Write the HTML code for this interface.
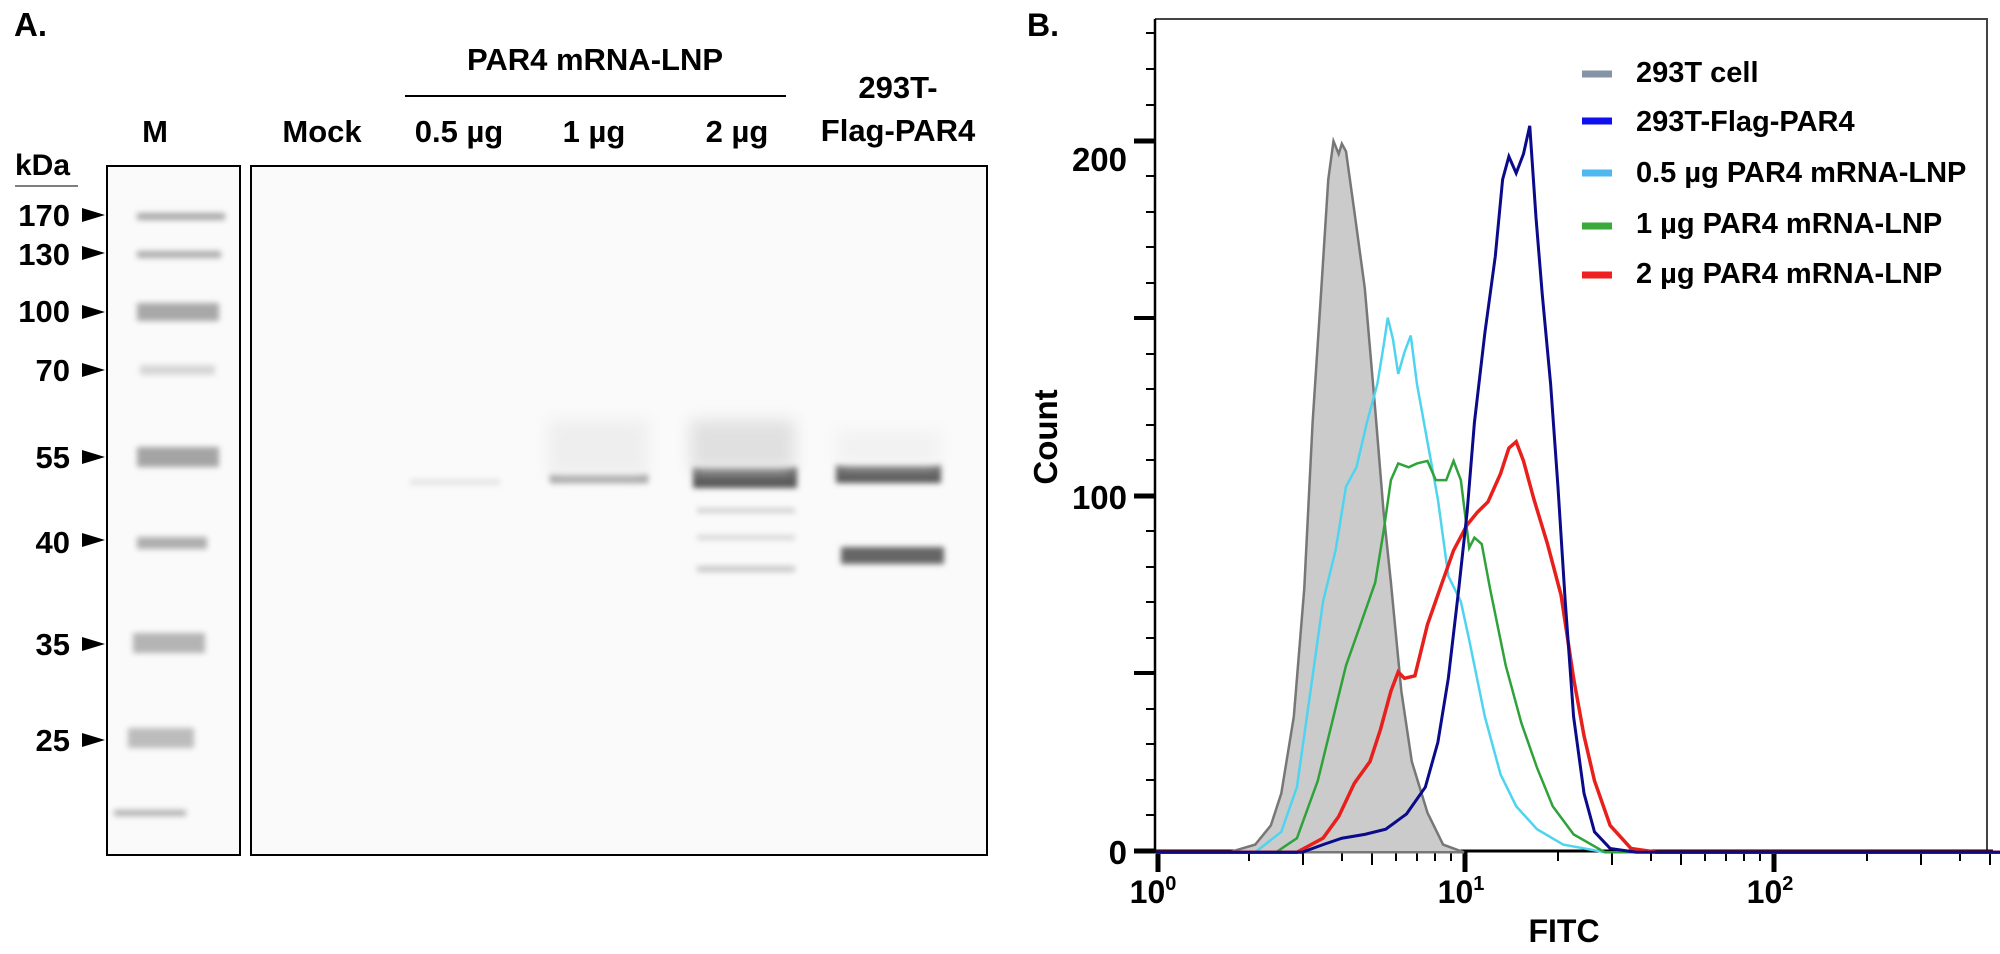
<!DOCTYPE html>
<html><head><meta charset="utf-8"><style>
body{margin:0;background:#fff;width:2000px;height:949px;overflow:hidden}
svg text{font-family:"Liberation Sans",sans-serif;font-weight:bold;fill:#000}
</style></head><body>
<svg width="2000" height="949" viewBox="0 0 2000 949" xmlns="http://www.w3.org/2000/svg">
<defs>
<filter id="bl" x="-20%" y="-200%" width="140%" height="500%"><feGaussianBlur stdDeviation="3"/></filter>
<filter id="bl2" x="-20%" y="-100%" width="140%" height="300%"><feGaussianBlur stdDeviation="8"/></filter>
</defs>
<!-- Panel A -->
<text x="14" y="36" font-size="33">A.</text>
<text x="595" y="70" font-size="31" text-anchor="middle">PAR4 mRNA-LNP</text>
<line x1="405" y1="96" x2="786" y2="96" stroke="#000" stroke-width="2"/>
<text x="155" y="142" font-size="31" text-anchor="middle">M</text>
<text x="322" y="142" font-size="31" text-anchor="middle">Mock</text>
<text x="459" y="142" font-size="31" text-anchor="middle">0.5 µg</text>
<text x="594" y="142" font-size="31" text-anchor="middle">1 µg</text>
<text x="737" y="142" font-size="31" text-anchor="middle">2 µg</text>
<text x="898" y="98" font-size="31" text-anchor="middle">293T-</text>
<text x="898" y="141" font-size="31" text-anchor="middle">Flag-PAR4</text>
<text x="15" y="175" font-size="30">kDa</text>
<line x1="15" y1="186" x2="78" y2="186" stroke="#555" stroke-width="1.5"/>
<g font-size="31" text-anchor="end">
<text x="70" y="226">170</text><text x="70" y="265">130</text><text x="70" y="322">100</text>
<text x="70" y="381">70</text><text x="70" y="468">55</text><text x="70" y="553">40</text>
<text x="70" y="655">35</text><text x="70" y="751">25</text>
</g>
<rect x="107" y="166" width="133" height="689" fill="#fafafa" stroke="#000" stroke-width="2"/>
<rect x="251" y="166" width="736" height="689" fill="#fafafa" stroke="#000" stroke-width="2"/>
<g fill="#000">
<polygon points="82,208 82,222 105,215"/>
<polygon points="82,246 82,260 105,253"/>
<polygon points="82,305 82,319 105,312"/>
<polygon points="82,363 82,377 105,370"/>
<polygon points="82,450 82,464 105,457"/>
<polygon points="82,533 82,547 105,540"/>
<polygon points="82,637 82,651 105,644"/>
<polygon points="82,733 82,747 105,740"/>
</g>
<g filter="url(#bl)">
<rect x="137" y="213" width="88" height="7" fill="#a8a8a8"/>
<rect x="137" y="251" width="84" height="7" fill="#acacac"/>
<rect x="137" y="303" width="82" height="18" fill="#a8a8a8"/>
<rect x="140" y="365" width="75" height="10" fill="#d6d6d6"/>
<rect x="137" y="447" width="82" height="20" fill="#a4a4a4"/>
<rect x="137" y="537" width="70" height="12" fill="#aeaeae"/>
<rect x="133" y="633" width="72" height="20" fill="#b4b4b4"/>
<rect x="128" y="728" width="66" height="20" fill="#bcbcbc"/>
<rect x="114" y="810" width="72" height="6" fill="#b0b0b0"/>
<rect x="410" y="479" width="90" height="6" fill="#e4e4e4"/>
<rect x="550" y="474" width="98" height="9" fill="#999"/>
<rect x="693" y="467" width="104" height="21" fill="#555"/>
<rect x="697" y="508" width="98" height="5" fill="#d0d0d0"/>
<rect x="697" y="535" width="98" height="5" fill="#d6d6d6"/>
<rect x="697" y="566" width="98" height="6" fill="#c8c8c8"/>
<rect x="836" y="465" width="105" height="18" fill="#5a5a5a"/>
<rect x="841" y="547" width="103" height="17" fill="#666"/>
</g>
<rect x="548" y="420" width="100" height="55" fill="#eeeeee" filter="url(#bl2)"/>
<rect x="690" y="420" width="105" height="50" fill="#e0e0e0" filter="url(#bl2)"/>
<rect x="836" y="430" width="105" height="35" fill="#f2f2f2" filter="url(#bl2)"/>
<!-- Panel B -->
<text x="1027" y="36" font-size="32">B.</text>
<polyline points="1155,19 1987,19 1987,851" fill="none" stroke="#444" stroke-width="2"/>
<line x1="1155" y1="19" x2="1155" y2="853" stroke="#000" stroke-width="2.5"/>
<line x1="1153" y1="851" x2="1993" y2="851" stroke="#000" stroke-width="3"/>
<g stroke="#000" stroke-width="2">
<line x1="1134" y1="141" x2="1155" y2="141" stroke-width="5"/>
<line x1="1134" y1="496" x2="1155" y2="496" stroke-width="5"/>
<line x1="1134" y1="851" x2="1155" y2="851" stroke-width="5"/>
<line x1="1134" y1="318" x2="1155" y2="318" stroke-width="4"/>
<line x1="1134" y1="673" x2="1155" y2="673" stroke-width="4"/>
<path d="M1146 815h9M1146 780h9M1146 744h9M1146 709h9M1146 638h9M1146 602h9M1146 567h9M1146 531h9M1146 460h9M1146 425h9M1146 389h9M1146 354h9M1146 283h9M1146 247h9M1146 212h9M1146 176h9M1146 105h9M1146 69h9M1146 33h9"/>
<line x1="1158" y1="851" x2="1158" y2="872" stroke-width="5"/>
<line x1="1465" y1="851" x2="1465" y2="872" stroke-width="5"/>
<line x1="1774" y1="851" x2="1774" y2="872" stroke-width="5"/>
<path d="M1249 851v10M1303 851v14M1342 851v10M1372 851v14M1396 851v10M1417 851v10M1435 851v10M1451 851v10M1558 851v10M1612 851v14M1651 851v10M1681 851v14M1705 851v10M1726 851v10M1744 851v10M1760 851v10M1867 851v10M1921 851v14M1960 851v10M1990 851v14"/>
</g>
<g font-size="33" text-anchor="end">
<text x="1127" y="171">200</text><text x="1127" y="509">100</text><text x="1127" y="864">0</text>
</g>
<g font-size="32" text-anchor="middle">
<text x="1153" y="903">10<tspan font-size="20" dy="-13">0</tspan></text>
<text x="1461" y="903">10<tspan font-size="20" dy="-13">1</tspan></text>
<text x="1770" y="903">10<tspan font-size="20" dy="-13">2</tspan></text>
<text x="1564" y="942">FITC</text>
</g>
<text transform="translate(1057,437) rotate(-90)" font-size="33" text-anchor="middle">Count</text>
<!-- curves -->
<g transform="translate(1156,851) scale(1.044,1.279) translate(-1080,-665)">
<polyline vector-effect="non-scaling-stroke" fill="#cbcbcb" stroke="#777" stroke-width="2.5" points="1080,666 1150,666 1175,660 1190,645 1200,620 1212,560 1222,460 1230,330 1238,230 1245,140 1250,110 1255,120 1258,112 1262,118 1270,165 1280,225 1290,320 1298,400 1305,455 1315,540 1325,595 1340,635 1355,660 1375,666 1080,666"/>
<polyline vector-effect="non-scaling-stroke" fill="none" stroke="#4fd4f0" stroke-width="2.5" points="1080,666 1175,666 1200,650 1215,615 1228,540 1240,470 1252,430 1262,380 1272,365 1282,330 1292,300 1298,270 1302,248 1307,265 1312,292 1318,275 1324,262 1330,300 1340,345 1350,390 1360,450 1372,470 1380,500 1395,560 1410,605 1425,630 1445,648 1470,660 1510,666 1995,666"/>
<polyline vector-effect="non-scaling-stroke" fill="none" stroke="#2fa23a" stroke-width="2.5" points="1080,666 1195,666 1215,655 1235,610 1250,560 1262,520 1275,490 1290,455 1298,415 1305,375 1312,362 1322,365 1330,362 1340,360 1348,375 1358,375 1365,360 1372,375 1380,428 1385,420 1392,425 1400,460 1415,520 1430,565 1445,600 1460,630 1480,652 1510,666 1995,666"/>
<polyline vector-effect="non-scaling-stroke" fill="none" stroke="#e8201c" stroke-width="3.5" points="1080,666 1215,666 1240,655 1255,638 1270,612 1285,595 1295,570 1305,540 1312,525 1318,530 1328,528 1340,488 1352,460 1365,430 1378,410 1388,400 1398,392 1410,370 1418,350 1425,345 1432,360 1442,390 1455,425 1468,465 1480,530 1490,575 1500,610 1515,645 1535,663 1560,666 1995,666"/>
<polyline vector-effect="non-scaling-stroke" fill="none" stroke="#0a0a8a" stroke-width="3" points="1080,666 1220,666 1240,660 1258,655 1280,652 1300,648 1320,636 1338,615 1350,580 1360,530 1370,460 1378,400 1385,330 1395,260 1405,200 1412,140 1418,122 1425,135 1432,120 1438,98 1444,170 1450,230 1458,300 1465,380 1472,470 1480,560 1490,620 1500,650 1515,663 1540,666 1995,666"/>
</g>
<!-- legend -->
<g stroke-width="7">
<line x1="1582" y1="74" x2="1612" y2="74" stroke="#8494a6"/>
<line x1="1582" y1="121" x2="1612" y2="121" stroke="#1010ee"/>
<line x1="1582" y1="173" x2="1612" y2="173" stroke="#4fb8f0"/>
<line x1="1582" y1="226" x2="1612" y2="226" stroke="#3aaa3a"/>
<line x1="1582" y1="275" x2="1612" y2="275" stroke="#f02020"/>
</g>
<g font-size="29">
<text x="1636" y="82">293T cell</text>
<text x="1636" y="131">293T-Flag-PAR4</text>
<text x="1636" y="182">0.5 µg PAR4 mRNA-LNP</text>
<text x="1636" y="233">1 µg PAR4 mRNA-LNP</text>
<text x="1636" y="283">2 µg PAR4 mRNA-LNP</text>
</g>
</svg>
</body></html>
